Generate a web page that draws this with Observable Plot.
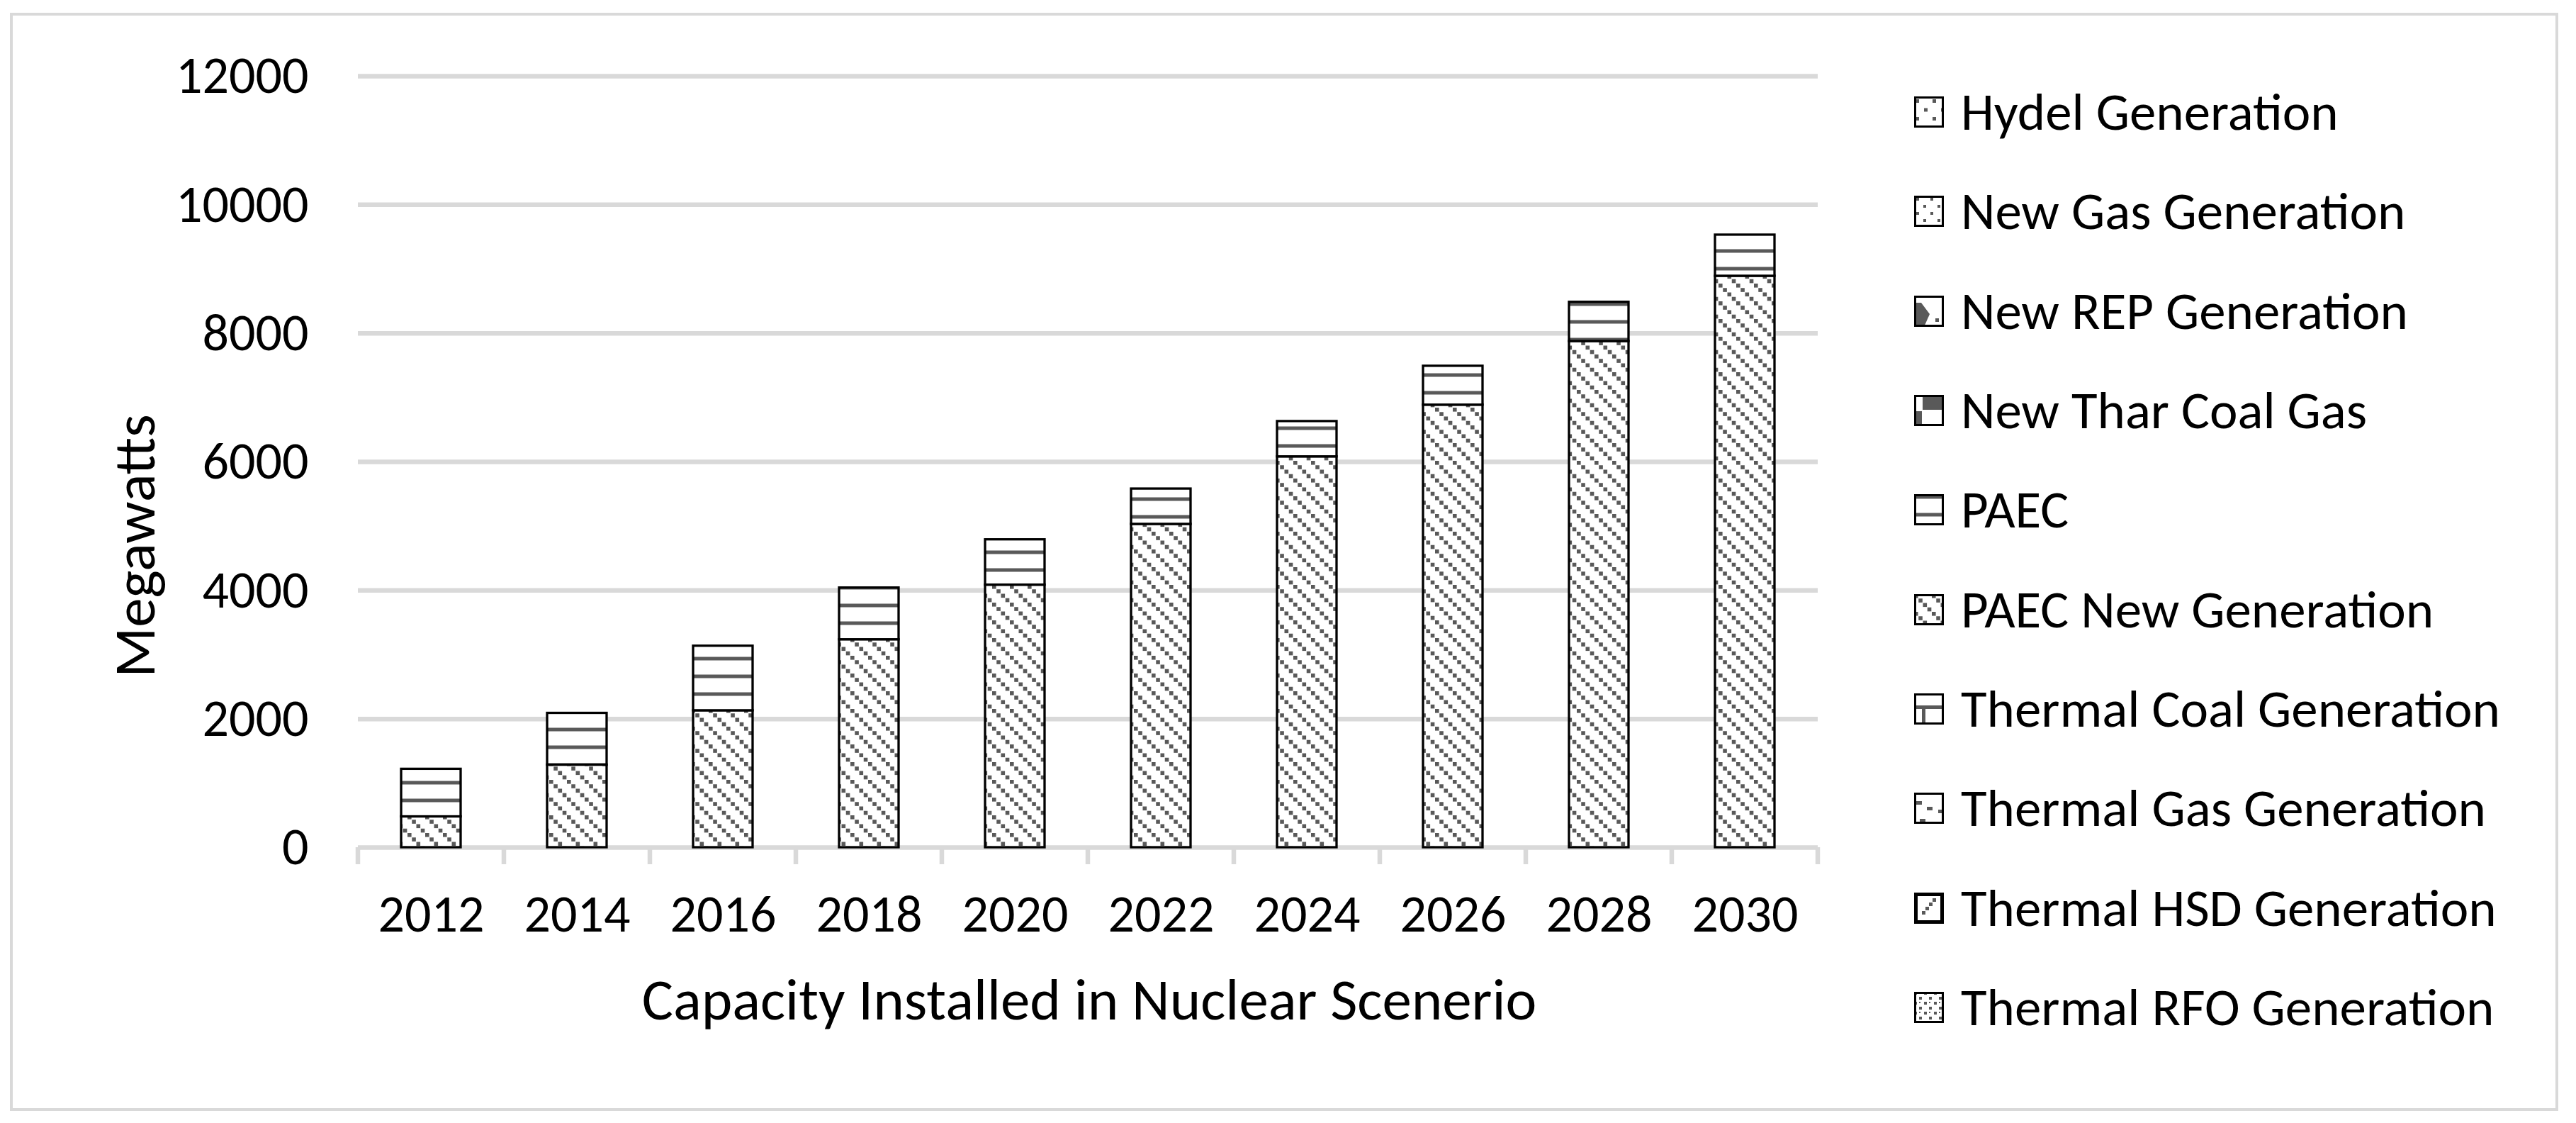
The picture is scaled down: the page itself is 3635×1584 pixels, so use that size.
<!DOCTYPE html>
<html>
<head>
<meta charset="utf-8">
<script src="https://cdn.jsdelivr.net/npm/d3@7"></script>
<script src="https://cdn.jsdelivr.net/npm/@observablehq/plot@0.6"></script>
<style>
  html, body { margin: 0; padding: 0; background: #fff; }
  #wrap { position: relative; width: 3635px; height: 1584px; overflow: hidden;
          font-family: Calibri, Carlito, Lato, sans-serif; color: #000; background: #fff; }
  #frame { position: absolute; left: 14px; top: 18px; width: 3596px; height: 1549px;
           border: 4.5px solid #d9d9d9; box-sizing: border-box; }
  #chart { position: absolute; left: 0; top: 0; }
  .title { position: absolute; font-size: 83px; white-space: nowrap; line-height: 1.2; }
  #ytitle { left: 190px; top: 770px; transform: translate(-50%, -50%) rotate(-90deg); }
  #xtitle { left: 1537px; top: 1410px; transform: translate(-50%, -50%); }
  #legend { position: absolute; left: 2701px; top: 88px; }
  .row { display: flex; align-items: center; height: 140.3px; }
  .row svg { flex: none; display: block; }
  .row span { margin-left: 24px; font-size: 75px; white-space: nowrap; line-height: 1.2; }
</style>
</head>
<body>
<svg width="0" height="0" style="position:absolute;left:0;top:0">
  <defs>
    <pattern id="p-hydel" patternUnits="userSpaceOnUse" width="24" height="25">
      <rect width="24" height="25" fill="#fff"/>
      <rect x="2" y="4" width="5" height="5" fill="#595959"/>
      <rect x="14" y="16.5" width="5" height="5" fill="#595959"/>
    </pattern>
    <pattern id="p-newgas" patternUnits="userSpaceOnUse" width="20" height="20">
      <rect width="20" height="20" fill="#fff"/>
      <rect x="3" y="3" width="4" height="4" fill="#595959"/>
      <rect x="13" y="13" width="4" height="4" fill="#595959"/>
    </pattern>
    <pattern id="p-rep" patternUnits="userSpaceOnUse" width="42" height="44">
      <rect width="42" height="44" fill="#fff"/>
      <polygon points="0,10 10,10 22,26 14,44 0,44" fill="#595959"/>
      <rect x="30" y="32" width="5" height="5" fill="#595959"/>
    </pattern>
    <pattern id="p-thar" patternUnits="userSpaceOnUse" width="42" height="44">
      <rect width="42" height="44" fill="#fff"/>
      <rect x="12" y="0" width="30" height="21" fill="#595959"/>
      <rect x="0" y="23" width="11" height="21" fill="#595959"/>
    </pattern>
    <pattern id="p-paec" patternUnits="userSpaceOnUse" width="25" height="25">
      <rect width="25" height="25" fill="#fff"/>
      <rect x="0" y="1.5" width="25" height="5" fill="#595959"/>
    </pattern>
    <pattern id="p-paecnew" patternUnits="userSpaceOnUse" width="25" height="25">
      <rect width="25" height="25" fill="#fff"/>
      <rect x="0" y="0" width="5.6" height="5.6" fill="#595959"/>
      <rect x="6.25" y="6.25" width="5.6" height="5.6" fill="#595959"/>
      <rect x="12.5" y="12.5" width="5.6" height="5.6" fill="#595959"/>
      <rect x="18.75" y="18.75" width="5.6" height="5.6" fill="#595959"/>
    </pattern>
    <pattern id="p-coal" patternUnits="userSpaceOnUse" width="42" height="44">
      <rect width="42" height="44" fill="#fff"/>
      <rect x="0" y="17" width="42" height="5" fill="#595959"/>
      <rect x="11" y="17" width="5" height="27" fill="#595959"/>
    </pattern>
    <pattern id="p-tgas" patternUnits="userSpaceOnUse" width="42" height="44">
      <rect width="42" height="44" fill="#fff"/>
      <rect x="3" y="12" width="8" height="5" fill="#595959"/>
      <rect x="18" y="20" width="8" height="5" fill="#595959"/>
      <rect x="34" y="24" width="6" height="5" fill="#595959"/>
      <rect x="8" y="37" width="8" height="5" fill="#595959"/>
    </pattern>
    <pattern id="p-hsd" patternUnits="userSpaceOnUse" width="42" height="44">
      <rect width="42" height="44" fill="#fff"/>
      <rect x="26" y="8" width="5" height="5" fill="#595959"/>
      <rect x="21" y="14" width="5" height="5" fill="#595959"/>
      <rect x="16" y="20" width="5" height="5" fill="#595959"/>
      <rect x="11" y="26" width="5" height="5" fill="#595959"/>
    </pattern>
    <pattern id="p-rfo" patternUnits="userSpaceOnUse" width="14" height="14">
      <rect width="14" height="14" fill="#fff"/>
      <rect x="0" y="0" width="4" height="4" fill="#595959"/>
      <rect x="7" y="7" width="4" height="4" fill="#595959"/>
      <rect x="7" y="0" width="2" height="2" fill="#595959"/>
    </pattern>
  </defs>
</svg>

<div id="wrap">
  <div id="frame"></div>
  <div id="chart"></div>
  <div class="title" id="ytitle">Megawatts</div>
  <div class="title" id="xtitle">Capacity Installed in Nuclear Scenerio</div>
  <div id="legend"></div>
</div>

<script>
// ---- data ----
const years = ["2012", "2014", "2016", "2018", "2020", "2022", "2024", "2026", "2028", "2030"];
const paecNewGeneration = [480, 1285, 2130, 3235, 4085, 5030, 6080, 6885, 7875, 8890];
const paec = [740, 805, 1005, 805, 705, 550, 550, 605, 610, 640];
const seriesNames = [
  "Hydel Generation",
  "New Gas Generation",
  "New REP Generation",
  "New Thar Coal Gas",
  "PAEC",
  "PAEC New Generation",
  "Thermal Coal Generation",
  "Thermal Gas Generation",
  "Thermal HSD Generation",
  "Thermal RFO Generation"
];
const seriesPatterns = [
  "p-hydel", "p-newgas", "p-rep", "p-thar", "p-paec",
  "p-paecnew", "p-coal", "p-tgas", "p-hsd", "p-rfo"
];
const yTicks = [0, 2000, 4000, 6000, 8000, 10000, 12000];

// ---- table for the stacked bars (bottom segment first) ----
const rows = years.flatMap((year, i) => [
  {year, series: "PAEC New Generation", value: paecNewGeneration[i]},
  {year, series: "PAEC", value: paec[i]}
]);

// category boundary ticks under the axis, computed from the band scale
function boundaryTicks(index, scales) {
  const sx = scales.x, sy = scales.y;
  const bw = typeof sx.bandwidth === "function" ? sx.bandwidth() : (sx.bandwidth || 0);
  const centers = years.map(y => sx(y) + bw / 2);
  const step = centers[1] - centers[0];
  const xs = centers.map(c => c - step / 2).concat([centers[centers.length - 1] + step / 2]);
  const y0 = sy(0);
  const g = d3.create("svg:g");
  g.selectAll("line").data(xs).join("line")
    .attr("x1", d => d).attr("x2", d => d)
    .attr("y1", y0).attr("y2", y0 + 24)
    .attr("stroke", "#d9d9d9").attr("stroke-width", 6.5);
  return g.node();
}

const chart = Plot.plot({
  width: 2650,
  height: 1584,
  marginLeft: 505,
  marginRight: 85,
  marginTop: 107,
  marginBottom: 389,
  style: {fontFamily: "Calibri, Carlito, Lato, sans-serif", fontSize: "74px", background: "transparent", color: "#000"},
  x: {domain: years, paddingInner: 0.592, paddingOuter: 0.296, label: null},
  y: {domain: [0, 12000], label: null},
  color: {domain: seriesNames, range: seriesPatterns.map(p => `url(#${p})`)},
  marks: [
    Plot.ruleY(yTicks, {stroke: "#d9d9d9", strokeWidth: 6.5}),
    boundaryTicks,
    Plot.barY(rows, {x: "year", y: "value", fill: "series", stroke: "#000", strokeWidth: 3.3}),
    Plot.axisY({ticks: yTicks, tickSize: 0, tickPadding: 70, tickFormat: d3.format("d"), label: null}),
    Plot.axisX({tickSize: 0, tickPadding: 66, label: null})
  ]
});
document.getElementById("chart").appendChild(chart);

// ---- legend ----
const legend = d3.select("#legend");
seriesNames.forEach((name, i) => {
  const row = legend.append("div").attr("class", "row");
  const sw = row.append("svg").attr("width", 42).attr("height", 44);
  const thick = name === "Thermal HSD Generation";
  const sWidth = thick ? 5 : 3;
  sw.append("rect")
    .attr("x", sWidth / 2).attr("y", sWidth / 2)
    .attr("width", 42 - sWidth).attr("height", 44 - sWidth)
    .attr("fill", `url(#${seriesPatterns[i]})`)
    .attr("stroke", "#000").attr("stroke-width", sWidth);
  row.append("span").text(name);
});
</script>
</body>
</html>
